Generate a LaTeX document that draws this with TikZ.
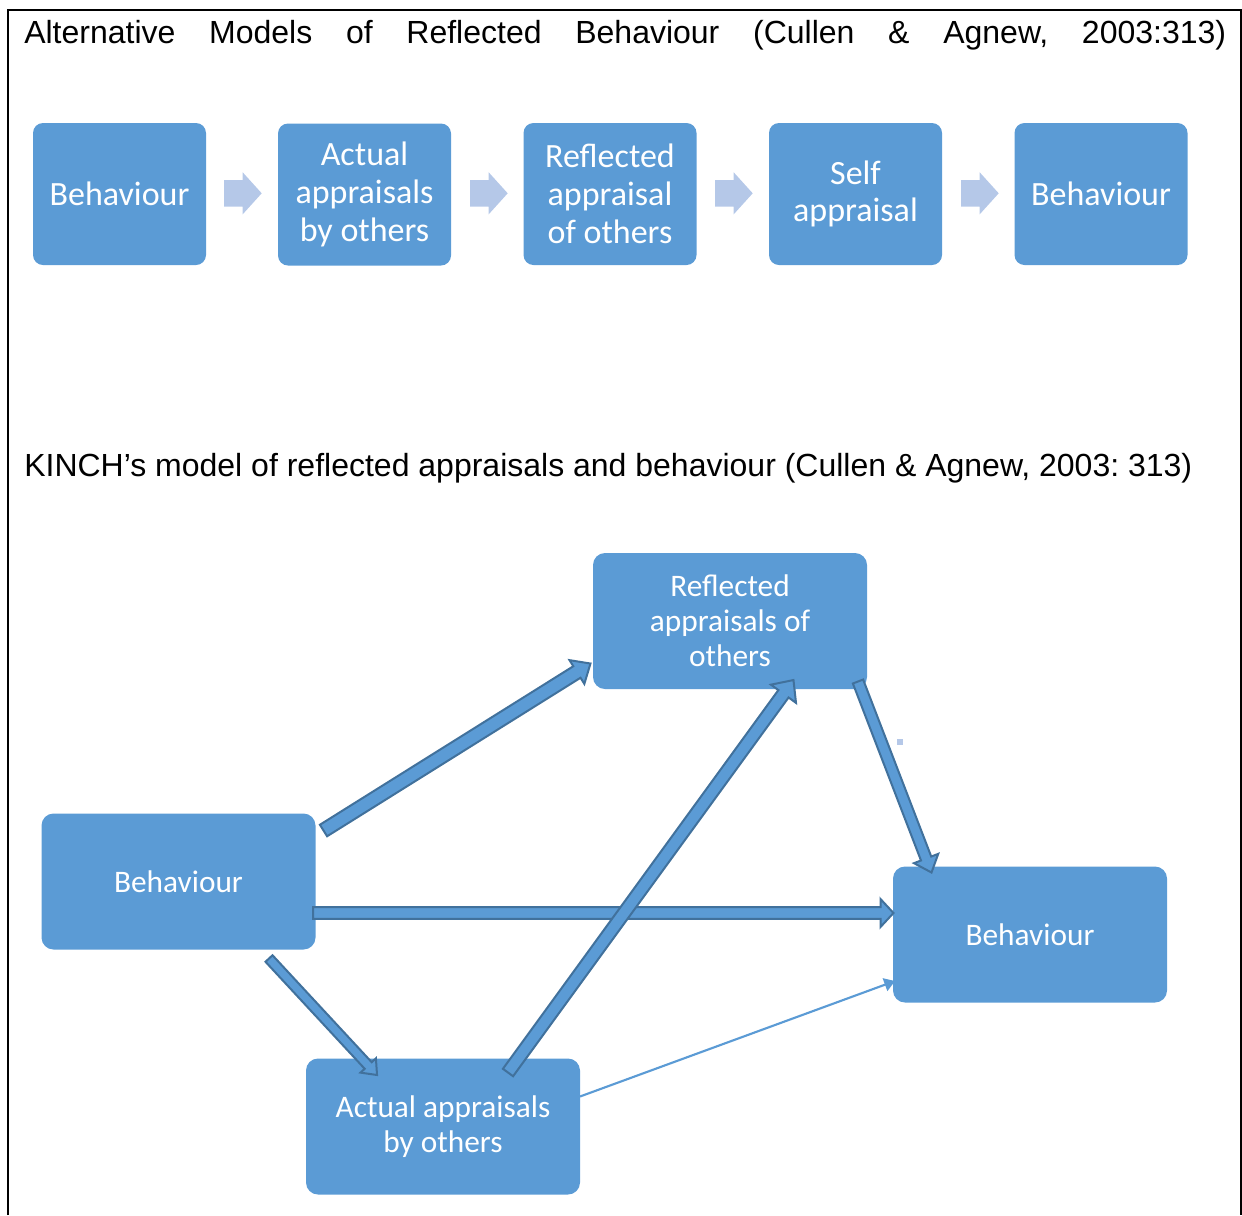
\documentclass[tikz,border=0pt]{standalone}
\usepackage{fontspec}
\setmainfont{Liberation Sans}
\newfontfamily\boxfont{Carlito}
\usetikzlibrary{calc,arrows.meta}
\frenchspacing
\definecolor{boxblue}{RGB}{91,155,213}
\definecolor{edgeblue}{RGB}{65,113,156}
\definecolor{paleblue}{RGB}{181,200,232}
\tikzset{
  topbox/.style={fill=boxblue, rounded corners=7.5pt, minimum width=129.75pt, minimum height=106.5pt, inner sep=0pt, align=center, text=white, font=\boxfont\fontsize{25.5}{28.3}\selectfont},
  botbox/.style={fill=boxblue, rounded corners=9pt, minimum width=205.5pt, minimum height=102pt, inner sep=0pt, align=center, text=white, font=\boxfont\fontsize{23.5}{26.3}\selectfont},
  bigarrow/.style={fill=boxblue, draw=edgeblue, line width=1.5pt, line join=miter},
  chevron/.style={fill=paleblue},
  thinarrow/.style={draw=boxblue, line width=1.6pt, -{Triangle[length=8pt,width=10pt]}},
  frameline/.style={line width=1.5pt, black},
  titletext/.style={anchor=base west, inner sep=0pt, font=\fontsize{24}{28}\selectfont}
}
% #1 style, #2 tail, #3 tip, #4 half shaft (px), #5 half head (px), #6 head length (px)
\newcommand\blockarrow[6]{%
  \path[#1] let \p1=(#2), \p2=(#3), \n1={atan2(\y2-\y1,\x2-\x1)}, \n2={veclen(\x2-\x1,\y2-\y1)} in
    [shift={(\p1)}, rotate=\n1]
    (0pt,{-#4*0.75pt}) -- ({\n2*1pt-#6*0.75pt},{-#4*0.75pt}) -- ({\n2*1pt-#6*0.75pt},{-#5*0.75pt})
    -- ({\n2*1pt},0pt) -- ({\n2*1pt-#6*0.75pt},{#5*0.75pt}) -- ({\n2*1pt-#6*0.75pt},{#4*0.75pt})
    -- (0pt,{#4*0.75pt}) -- cycle;%
}
\begin{document}
\begin{tikzpicture}[x=0.75pt,y=-0.75pt]
\useasboundingbox (0,0) rectangle (1242,1215);
% frame
\draw[frameline] (7.5,1215) -- (7.5,10.3) -- (1240.5,10.3) -- (1240.5,1215);
% titles
\node[titletext] (title1) at (24,43.5) {\makebox[901.5pt][s]{Alternative Models of Reflected Behaviour (Cullen \& Agnew, 2003:313)}};
\node[titletext] (title2) at (24,476.5) {KINCH’s model of reflected appraisals and behaviour (Cullen \& Agnew, 2003: 313)};
% top row
\node[topbox] (b1) at (119.5,194) {Behaviour};
\node[topbox] (b2) at (364.5,194.5) {Actual\\appraisals\\by others};
\node[topbox] (b3) at (610,194) {Reflected\\appraisal\\of others};
\node[topbox] (b4) at (855.5,194) {Self\\appraisal};
\node[topbox] (b5) at (1101,194) {Behaviour};
\coordinate (c1t) at (224,193.3); \coordinate (c1h) at (261.7,193.3);
\coordinate (c2t) at (470,193.3); \coordinate (c2h) at (507.7,193.3);
\coordinate (c3t) at (715,193.3); \coordinate (c3h) at (752.7,193.3);
\coordinate (c4t) at (961,193.3); \coordinate (c4h) at (998.7,193.3);
\blockarrow{chevron}{c1t}{c1h}{13.3}{21}{19}
\blockarrow{chevron}{c2t}{c2h}{13.3}{21}{19}
\blockarrow{chevron}{c3t}{c3h}{13.3}{21}{19}
\blockarrow{chevron}{c4t}{c4h}{13.3}{21}{19}
% bottom diagram
\node[botbox] (refl) at (730,621) {Reflected\\appraisals of\\others};
\node[botbox] (behL) at (178.5,881.5) {Behaviour};
\node[botbox] (behR) at (1030,934.5) {Behaviour};
\node[botbox] (act) at (443,1126.5) {Actual appraisals\\by others};
% connector end points
\coordinate (a1t) at (323.5,830.5); \coordinate (a1h) at (590.5,663.5);
\coordinate (a2t) at (313,913); \coordinate (a2h) at (893.5,913);
\coordinate (a3t) at (508,1072.5); \coordinate (a3h) at (793.5,680);
\coordinate (a4t) at (858,681.5); \coordinate (a4h) at (931.5,872.5);
\coordinate (a5t) at (269,958.5); \coordinate (a5h) at (377.5,1075.5);
\coordinate (a6t) at (580,1096.5); \coordinate (a6h) at (895,981);
\blockarrow{bigarrow}{a1t}{a1h}{6.8}{14}{16}
\blockarrow{bigarrow}{a2t}{a2h}{5.8}{14}{13}
\blockarrow{bigarrow}{a3t}{a3h}{6.3}{15.5}{17}
\blockarrow{bigarrow}{a4t}{a4h}{5.5}{13}{15}
\blockarrow{bigarrow}{a5t}{a5h}{4.8}{10.5}{13}
\draw[thinarrow] (a6t) -- (a6h);
% small stray mark
\fill[paleblue] (897,738.5) rectangle (903,745);
\end{tikzpicture}
\end{document}
